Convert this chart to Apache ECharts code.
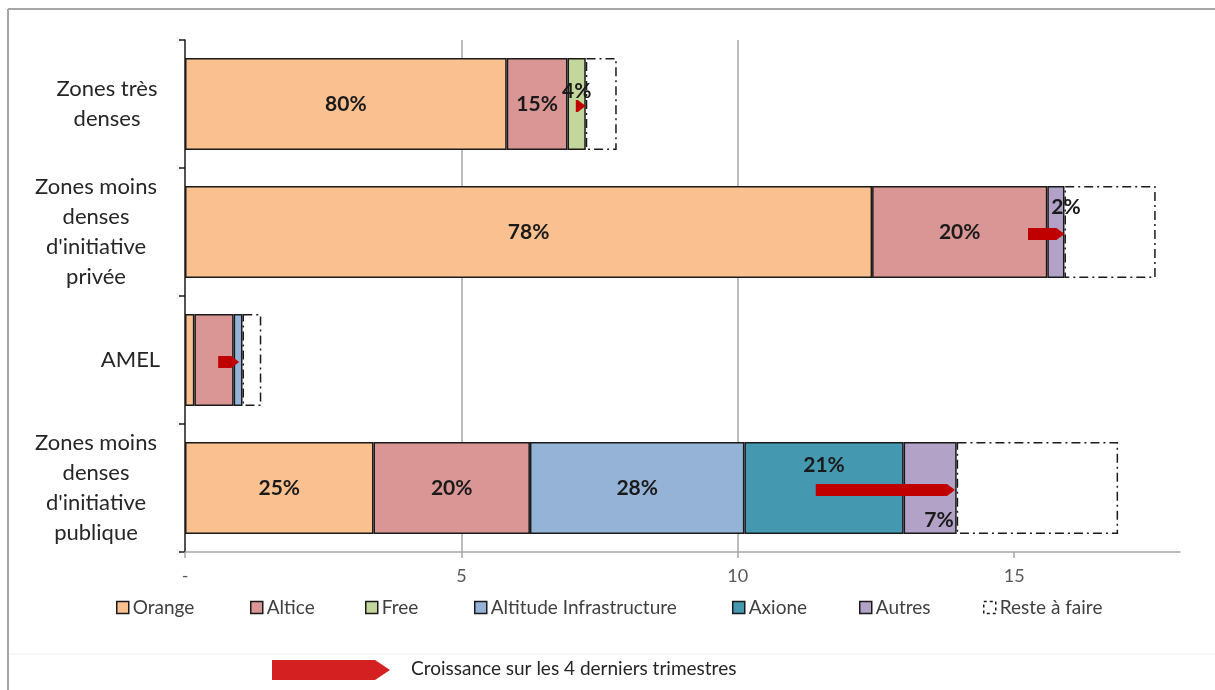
<!DOCTYPE html>
<html>
<head>
<meta charset="utf-8">
<script src="https://cdn.jsdelivr.net/npm/echarts@6/dist/echarts.min.js"></script>
<style>
html,body{margin:0;padding:0;background:#fff;}
#chart{width:1215px;height:690px;}
</style>
</head>
<body>
<div id="chart"></div>
<script>
// ---- data ----
const categories = ["Zones très\ndenses", "Zones moins\ndenses\nd'initiative\nprivée", "AMEL", "Zones moins\ndenses\nd'initiative\npublique"];
const orange   = [5.82, 12.43, 0.17, 3.41];
const altice   = [1.10, 3.17, 0.71, 2.83];
const free     = [0.33, 0, 0, 0];
const altitude = [0, 0, 0.16, 3.88];
const axione   = [0, 0, 0, 2.88];
const autres   = [0, 0.31, 0, 0.96];
const reste    = [0.56, 1.65, 0.34, 2.92];

const orangeLbl   = ['80%', '78%', '', '25%'];
const alticeLbl   = ['15%', '20%', '', '20%'];
const freeLbl     = ['4%', '', '', ''];
const altitudeLbl = ['', '', '', '28%'];
const axioneLbl   = ['', '', '', '21%'];
const autresLbl   = ['', '2%', '', '7%'];

// growth over the last 4 quarters: start -> end
const growthStart = [7.07, 15.25, 0.60, 11.41];
const growthEnd   = [7.25, 15.91, 0.98, 13.93];

const xTicks = [0, 5, 10, 15];
const legendLabel = 'Croissance sur les 4 derniers trimestres';

// ---- styling ----
const FONT = 'Lato';
const specialPlacement = {
  'Free|0':   {position: 'insideTop', distance: 23},
  'Autres|1': {position: [4, 11]},
  'Axione|3': {position: 'insideTop', distance: 13},
  'Autres|3': {position: 'insideBottomRight', distance: 3}
};
const catBlockWidths = [104, 126, 57, 126];

const defs = [
  {name: 'Orange', values: orange, labels: orangeLbl, color: '#FAC090'},
  {name: 'Altice', values: altice, labels: alticeLbl, color: '#D99694'},
  {name: 'Free', values: free, labels: freeLbl, color: '#C3D69B'},
  {name: 'Altitude Infrastructure', values: altitude, labels: altitudeLbl, color: '#95B3D7'},
  {name: 'Axione', values: axione, labels: axioneLbl, color: '#4499B0'},
  {name: 'Autres', values: autres, labels: autresLbl, color: '#B3A2C7'}
];

const series = defs.map(d => ({
  name: d.name,
  type: 'bar',
  stack: 'total',
  barWidth: '72%',
  itemStyle: {color: d.color, borderColor: '#1a1a1a', borderWidth: 1.5},
  label: {
    show: true,
    color: '#1a1a1a',
    fontFamily: FONT,
    fontWeight: 'bold',
    fontSize: 21,
    formatter: p => d.labels[p.dataIndex] || ''
  },
  emphasis: {disabled: true},
  data: d.values.map((v, i) => {
    if (!v) return '-';
    const sp = specialPlacement[d.name + '|' + i];
    return sp ? {value: v, label: sp} : v;
  })
}));

series.push({
  name: 'Reste à faire',
  type: 'bar',
  stack: 'total',
  barWidth: '72%',
  itemStyle: {color: 'rgba(255,255,255,0)', borderColor: '#1a1a1a', borderWidth: 1.5, borderType: [9, 4, 2, 4]},
  emphasis: {disabled: true},
  data: reste
});

series.push({
  name: 'growth',
  type: 'custom',
  z: 10,
  silent: true,
  encode: {x: [1, 2], y: 0},
  data: growthStart.map((s, i) => [i, s, growthEnd[i]]),
  renderItem: function (params, api) {
    const cat = api.value(0);
    const p0 = api.coord([api.value(1), cat]);
    const p1 = api.coord([api.value(2), cat]);
    const h = 12, head = 8;
    const y = p0[1] + 2;
    const x0 = p0[0], x1 = p1[0];
    const xh = Math.max(x0, x1 - head);
    return {
      type: 'polygon',
      shape: {points: [[x0, y - h / 2], [xh, y - h / 2], [x1, y], [xh, y + h / 2], [x0, y + h / 2]]},
      style: {fill: '#C00000'}
    };
  }
});

const legendPos = [
  ['Orange', 116], ['Altice', 250], ['Free', 365], ['Altitude Infrastructure', 474],
  ['Axione', 732], ['Autres', 859], ['Reste à faire', 983]
];
const legends = legendPos.map(([n, x]) => ({
  left: x, top: 598, padding: 0,
  icon: 'rect', itemWidth: 12, itemHeight: 12, itemGap: 4,
  selectedMode: false,
  textStyle: {fontFamily: FONT, fontSize: 19, color: '#404040', padding: [0, 0, 0, -1]},
  data: [n === 'Reste à faire'
    ? {name: n, itemStyle: {color: '#fff', borderColor: '#1a1a1a', borderWidth: 1.5, borderType: [3, 3]}}
    : {name: n, itemStyle: {borderColor: '#1a1a1a', borderWidth: 1.5}}]
}));

const rich = {};
catBlockWidths.forEach((w, i) => {
  rich['c' + i] = {width: w, align: 'center', fontFamily: FONT, fontSize: 22, lineHeight: 30, color: '#262626'};
});

const option = {
  animation: false,
  backgroundColor: '#fff',
  grid: {left: 185, right: 35, top: 40, bottom: 138, containLabel: false},
  legend: legends,
  xAxis: {
    type: 'value',
    min: 0, max: 18, interval: 5,
    axisLine: {show: true, lineStyle: {color: '#A6A6A6', width: 1.5}},
    axisTick: {show: true, length: 6, customValues: xTicks, lineStyle: {color: '#A6A6A6', width: 1.5}},
    axisLabel: {
      customValues: xTicks,
      margin: 15,
      fontFamily: FONT, fontSize: 18, color: '#595959',
      formatter: v => v === 0 ? '-' : String(v)
    },
    splitLine: {show: true, showMinLine: false, showMaxLine: false, lineStyle: {color: '#A6A6A6', width: 1.5}}
  },
  yAxis: {
    type: 'category',
    inverse: true,
    data: categories,
    axisLine: {show: true, lineStyle: {color: '#1a1a1a', width: 1.5}},
    axisTick: {show: true, length: 6, lineStyle: {color: '#1a1a1a', width: 1.5}},
    axisLabel: {
      margin: 26,
      align: 'right',
      formatter: (v, i) => v.split('\n').map(l => '{c' + i + '|' + l + '}').join('\n'),
      rich: rich
    },
    splitLine: {show: false}
  },
  graphic: [
    {type: 'line', shape: {x1: 8, y1: 9, x2: 1215, y2: 9}, style: {stroke: '#A6A6A6', lineWidth: 2}},
    {type: 'line', shape: {x1: 8, y1: 9, x2: 8, y2: 690}, style: {stroke: '#A6A6A6', lineWidth: 2}},
    {type: 'line', shape: {x1: 9, y1: 654, x2: 1215, y2: 654}, style: {stroke: '#F0F0F0', lineWidth: 1}},
    {type: 'polygon', shape: {points: [[272, 660], [375, 660], [390, 670], [375, 680], [272, 680]]}, style: {fill: '#D42020'}},
    {type: 'text', left: 411, top: 659, style: {text: legendLabel, font: '19px ' + FONT, fill: '#262626'}}
  ],
  series: series
};

const chart = echarts.init(document.getElementById('chart'), null, {renderer: 'canvas'});
chart.setOption(option);
</script>
</body>
</html>
